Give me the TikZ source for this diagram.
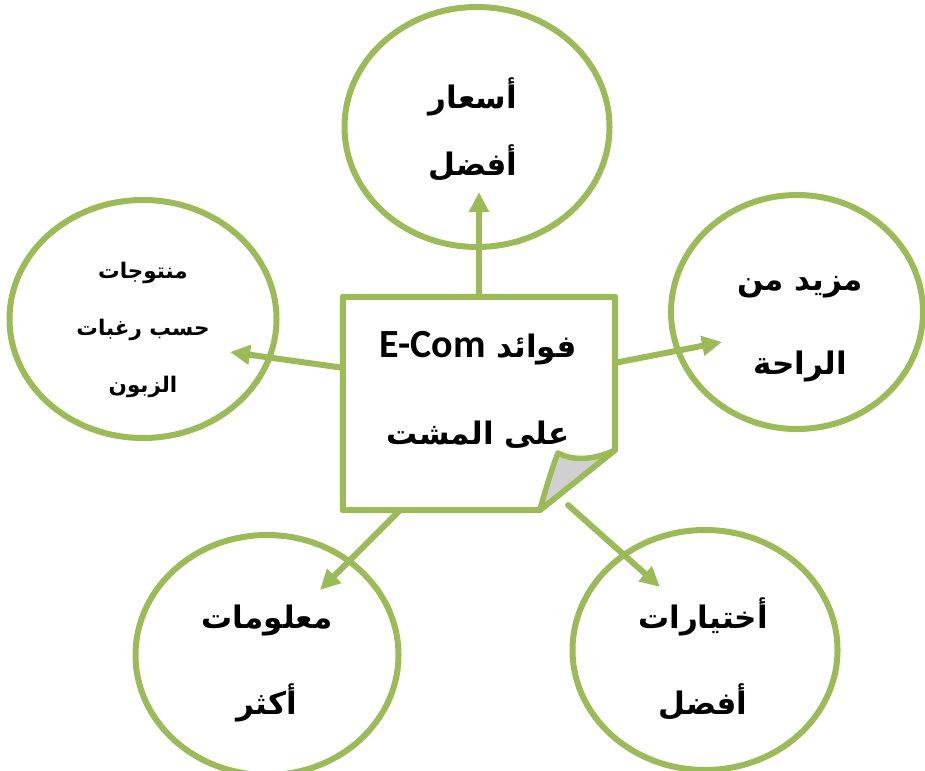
\documentclass[tikz,border=0pt]{standalone}
\usepackage{fontspec}
\usetikzlibrary{arrows.meta,shapes.geometric,calc}
\TeXXeTstate=1
\newfontfamily\arabicfont[Script=Arabic]{DejaVu Sans}
\newfontfamily\latinfont{Carlito}
\definecolor{leaf}{HTML}{9BBB59}
\definecolor{flapgray}{HTML}{D0D0D0}
\begin{document}
\begin{tikzpicture}[x=1pt,y=-1pt,
  bubble/.style={ellipse, draw=leaf, line width=6pt, fill=white, inner sep=0pt},
  arlabel/.style={font=\arabicfont\bfseries\fontsize{31}{36}\selectfont, inner sep=0pt},
  smalllabel/.style={font=\arabicfont\bfseries\fontsize{21.5}{25}\selectfont, inner sep=0pt},
  link/.style={draw=leaf, line width=6pt, line cap=round, -{Triangle[length=20pt,width=19pt]}},
  ]
\useasboundingbox (0,0) rectangle (925,770);

% bubbles
\node[bubble, minimum width=265pt, minimum height=240pt] (prices) at (477,127) {};
\node[bubble, minimum width=252pt, minimum height=234pt] (comfort) at (797,312) {};
\node[bubble, minimum width=267pt, minimum height=238pt] (products) at (143,319) {};
\node[bubble, minimum width=263pt, minimum height=240pt] (info) at (267,655) {};
\node[bubble, minimum width=265pt, minimum height=240pt] (choices) at (705,650) {};

% central note
\node[minimum width=272pt, minimum height=213pt, inner sep=0pt] (box) at (479,403.5) {};
\coordinate (foldR) at ($(box.north east)+(0,153)$);
\coordinate (foldB) at ($(box.south west)+(197,0)$);
\coordinate (flapTip) at (558,453);
\draw[leaf, line width=6pt, line join=round, fill=white]
  (box.north west) -- (box.north east) -- (foldR) -- (foldB) -- (box.south west) -- cycle;
\draw[leaf, line width=5.5pt, line join=round, fill=flapgray]
  (foldB) .. controls (546,488) and (552,468) .. (flapTip)
  .. controls (575,462) and (597,459) .. (foldR) -- cycle;

% arrow ends
\coordinate (tipTop) at (479,192);
\coordinate (tipRight) at (722,342);
\coordinate (tipLeft) at (230,352);
\coordinate (tipBL) at (320,590);
\coordinate (tipBR) at (660,587);
\coordinate (startBR) at (568,505);

\draw[link] (box.north) -- (tipTop);
\draw[link] ($(box.north east)+(0,66)$) -- (tipRight);
\draw[link] ($(box.north west)+(0,71)$) -- (tipLeft);
\draw[link] ($(box.south west)+(57,0)$) -- (tipBL);
\draw[link] (startBR) -- (tipBR);

% texts
\node[arlabel] (t1a) at (473,97) {\beginR أسعار\endR};
\node[arlabel] (t1b) at (473,163) {\beginR أفضل\endR};
\node[arlabel] (t2a) at (800,287) {\beginR مزيد من\endR};
\node[arlabel] (t2b) at (800,367) {\beginR الراحة\endR};
\node[smalllabel] (t3a) at (143,273) {\beginR منتوجات\endR};
\node[smalllabel] (t3b) at (143,330) {\beginR حسب رغبات\endR};
\node[smalllabel] (t3c) at (143,387) {\beginR الزبون\endR};
\node[arlabel] (t4a) at (267,620) {\beginR معلومات\endR};
\node[arlabel] (t4b) at (267,703) {\beginR أكثر\endR};
\node[arlabel] (t5a) at (703,617) {\beginR أختيارات\endR};
\node[arlabel] (t5b) at (703,702) {\beginR أفضل\endR};
\node[arlabel] (t6a) at (478,348) {\beginR فوائد \beginL{\latinfont\bfseries\fontsize{40}{44}\selectfont E-Com}\endL\endR};
\node[arlabel] (t6b) at (478,435) {\beginR على المشت\endR};
\end{tikzpicture}
\end{document}
